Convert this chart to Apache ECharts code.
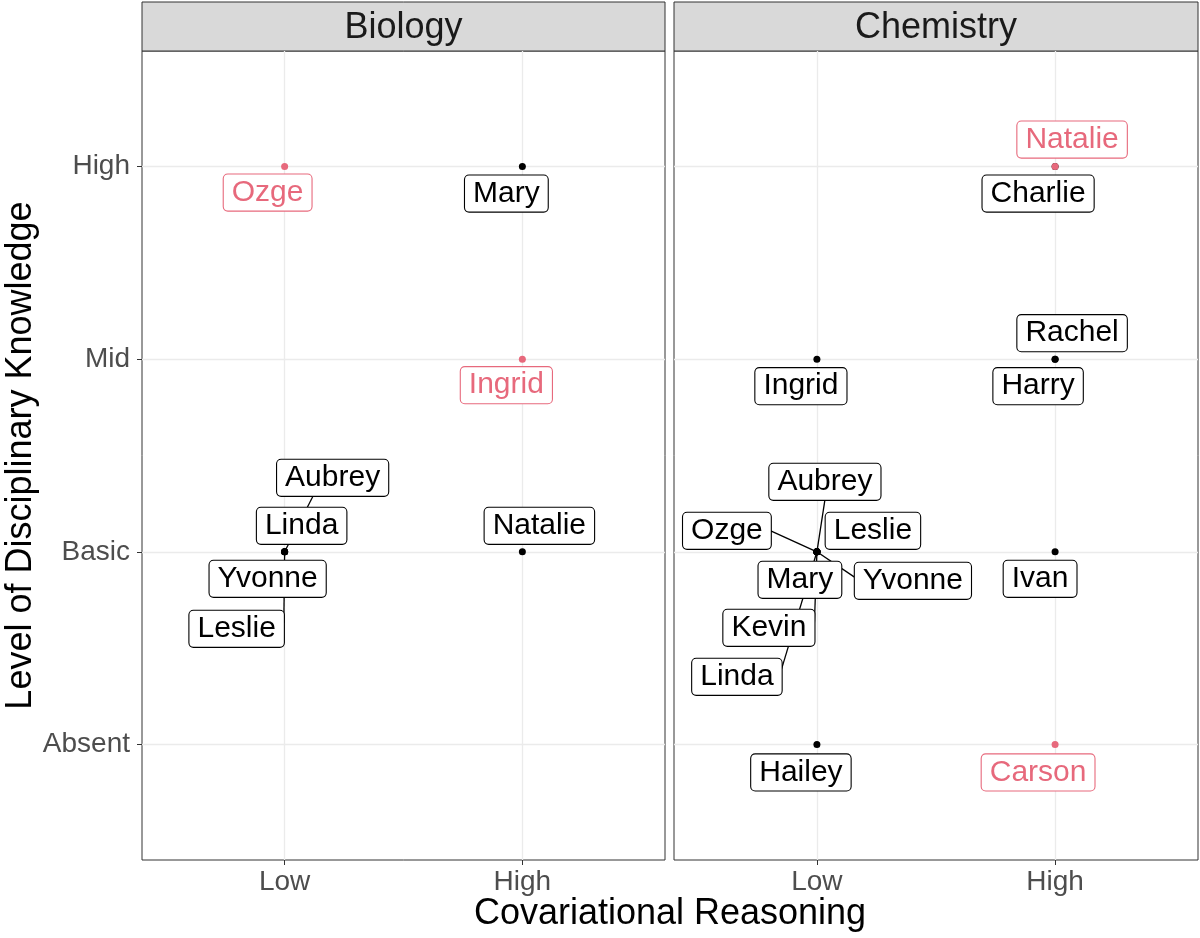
<!DOCTYPE html>
<html>
<head>
<meta charset="utf-8">
<script src="https://cdn.jsdelivr.net/npm/echarts@6/dist/echarts.min.js"></script>
<style>
html, body { margin: 0; padding: 0; background: #fff; }
#main { width: 1200px; height: 938px; }
</style>
</head>
<body>
<div id="main"></div>
<script>
var subjects = ['Biology', 'Chemistry'];
var reasoningLevels = ['Low', 'High'];
var knowledgeLevels = ['Absent', 'Basic', 'Mid', 'High'];

// Biology panel
var bioNames     = ['Ozge', 'Mary', 'Ingrid', 'Natalie', 'Aubrey', 'Linda', 'Yvonne', 'Leslie'];
var bioReasoning = ['Low', 'High', 'High', 'High', 'Low', 'Low', 'Low', 'Low'];
var bioKnowledge = ['High', 'High', 'Mid', 'Basic', 'Basic', 'Basic', 'Basic', 'Basic'];
var bioHighlight = [1, 0, 1, 0, 0, 0, 0, 0];

// Chemistry panel
var chemNames     = ['Natalie', 'Charlie', 'Rachel', 'Harry', 'Ingrid', 'Ivan', 'Hailey', 'Carson',
                     'Aubrey', 'Leslie', 'Ozge', 'Yvonne', 'Mary', 'Kevin', 'Linda'];
var chemReasoning = ['High', 'High', 'High', 'High', 'Low', 'High', 'Low', 'High',
                     'Low', 'Low', 'Low', 'Low', 'Low', 'Low', 'Low'];
var chemKnowledge = ['High', 'High', 'Mid', 'Mid', 'Mid', 'Basic', 'Absent', 'Absent',
                     'Basic', 'Basic', 'Basic', 'Basic', 'Basic', 'Basic', 'Basic'];
var chemHighlight = [1, 0, 0, 0, 0, 0, 0, 1, 0, 0, 0, 0, 0, 0, 0];

// where the repelled labels ended up, in pixels from their point;
// third item, if any: where the segment meets the box (half-box units, 1 = right/bottom edge)
var bioLabelPos = {
    Ozge: [-17, 26], Mary: [-16, 27], Ingrid: [-16, 26], Natalie: [17, -26],
    Aubrey: [48, -74, [-0.35, 1]], Linda: [17, -26], Yvonne: [-17, 27], Leslie: [-48, 77, [1, -0.33]]
};
var chemLabelPos = {
    Natalie: [17, -27], Charlie: [-17, 27], Rachel: [17, -26], Harry: [-17, 27],
    Ingrid: [-16, 27], Ivan: [-15, 27], Hailey: [-16, 28], Carson: [-17, 28],
    Aubrey: [8, -70, [0, 1]], Leslie: [56, -21], Ozge: [-90, -21, [1, 0]], Yvonne: [96, 29, [-1, -0.19]],
    Mary: [-17, 28], Kevin: [-48, 76, [1, -0.3]], Linda: [-80, 125, [1, -0.44]]
};

var PINK = '#E7697C';
var FONT = 'Liberation Sans, Arial, sans-serif';
var LABEL_SIZE = 30, LABEL_PAD = [3, 8];
var panels = [
    { left: 142, right: 665 },
    { left: 674, right: 1198 }
];
var PANEL_TOP = 51, PANEL_BOTTOM = 860;

var measureCtx = document.createElement('canvas').getContext('2d');
measureCtx.font = LABEL_SIZE + 'px ' + FONT;
function boxSize(text) {
    return [measureCtx.measureText(text).width + 2 * LABEL_PAD[1], LABEL_SIZE + 2 * LABEL_PAD[0]];
}

var myChart = echarts.init(document.getElementById('main'));

function pointValue(reasoning, knowledge) {
    return [reasoningLevels.indexOf(reasoning) + 1, knowledgeLevels.indexOf(knowledge) + 1];
}

function buildSeries(idx, names, reasoning, knowledge, highlight, labelPos) {
    var items = [];
    for (var i = 0; i < names.length; i++) {
        items.push({ name: names[i], value: pointValue(reasoning[i], knowledge[i]), hl: highlight[i] });
    }
    // highlighted students drawn on top
    items.sort(function (a, b) { return a.hl - b.hl; });
    var data = items.map(function (d) {
        var col = d.hl ? PINK : '#000';
        return {
            name: d.name,
            value: d.value,
            itemStyle: { color: col, opacity: 1 },
            label: { color: col, borderColor: col }
        };
    });
    return {
        type: 'scatter',
        xAxisIndex: idx,
        yAxisIndex: idx,
        symbolSize: 7,
        z: 3,
        data: data,
        itemStyle: { opacity: 1 },
        label: {
            show: true,
            position: 'inside',
            formatter: '{b}',
            fontFamily: FONT,
            fontSize: LABEL_SIZE,
            lineHeight: LABEL_SIZE,
            backgroundColor: '#fff',
            borderWidth: 1.1,
            borderRadius: 4,
            padding: [LABEL_PAD[0], LABEL_PAD[1], LABEL_PAD[0], LABEL_PAD[1]]
        },
        labelLayout: function (p) {
            var o = labelPos[data[p.dataIndex].name];
            return { dx: o[0], dy: o[1] };
        },
        emphasis: { disabled: true },
        animation: false
    };
}

// segments from the points to their moved labels, under the labels
function buildSegments(idx, names, reasoning, knowledge, labelPos) {
    var segs = [];
    for (var i = 0; i < names.length; i++) {
        if (labelPos[names[i]][2]) {
            segs.push({ name: names[i], value: pointValue(reasoning[i], knowledge[i]) });
        }
    }
    return {
        type: 'custom',
        xAxisIndex: idx,
        yAxisIndex: idx,
        z: 1,
        silent: true,
        animation: false,
        data: segs,
        renderItem: function (params, api) {
            var s = segs[params.dataIndex];
            var p = api.coord([api.value(0), api.value(1)]);
            var lp = labelPos[s.name];
            var sz = boxSize(s.name);
            var ex = p[0] + lp[0] + lp[2][0] * sz[0] / 2;
            var ey = p[1] + lp[1] + lp[2][1] * sz[1] / 2;
            return {
                type: 'line',
                shape: { x1: p[0], y1: p[1], x2: ex, y2: ey },
                style: { stroke: '#000', lineWidth: 1.3 }
            };
        }
    };
}

var grids = [], xAxes = [], yAxes = [], graphics = [];
panels.forEach(function (pn, i) {
    grids.push({
        left: pn.left, right: 1200 - pn.right, top: PANEL_TOP, bottom: 938 - PANEL_BOTTOM,
        containLabel: false, outerBoundsMode: 'none',
        show: true, borderColor: '#333', borderWidth: 1, backgroundColor: '#fff'
    });
    xAxes.push({
        type: 'value', gridIndex: i, min: 0.4, max: 2.6,
        axisLine: { show: false },
        axisTick: { show: true, length: 5, customValues: [1, 2], lineStyle: { color: '#333' } },
        axisLabel: {
            customValues: [1, 2], margin: 8, fontSize: 28, fontFamily: FONT, color: '#4D4D4D',
            formatter: function (v) { return reasoningLevels[Math.round(v) - 1]; }
        },
        splitLine: { show: true, lineStyle: { color: '#EBEBEB', width: 1.3 } }
    });
    yAxes.push({
        type: 'value', gridIndex: i, min: 0.4, max: 4.6,
        name: i === 0 ? 'Level of Disciplinary Knowledge' : '',
        nameLocation: 'middle', nameGap: 102, nameRotate: 90,
        nameTextStyle: { fontSize: 36, fontFamily: FONT, color: '#000' },
        axisLine: { show: false },
        axisTick: { show: i === 0, length: 5, customValues: [1, 2, 3, 4], lineStyle: { color: '#333' } },
        axisLabel: {
            show: i === 0, customValues: [1, 2, 3, 4], margin: 12, fontSize: 28, fontFamily: FONT, color: '#4D4D4D',
            formatter: function (v) { return knowledgeLevels[Math.round(v) - 1]; }
        },
        splitLine: { show: true, lineStyle: { color: '#EBEBEB', width: 1.3 } }
    });
    // facet strip
    graphics.push({
        type: 'rect',
        shape: { x: pn.left, y: 2, width: pn.right - pn.left, height: PANEL_TOP - 2 },
        style: { fill: '#D9D9D9', stroke: '#333', lineWidth: 1 }
    });
    graphics.push({
        type: 'text', x: (pn.left + pn.right) / 2, y: 28,
        style: { text: subjects[i], fontSize: 36, fontFamily: FONT, fill: '#1A1A1A', align: 'center', verticalAlign: 'middle' }
    });
});
graphics.push({
    type: 'text', x: (panels[0].left + panels[1].right) / 2, y: 914,
    style: { text: 'Covariational Reasoning', fontSize: 36, fontFamily: FONT, fill: '#000', align: 'center', verticalAlign: 'middle' }
});

var option = {
    backgroundColor: '#fff',
    grid: grids,
    xAxis: xAxes,
    yAxis: yAxes,
    graphic: graphics,
    series: [
        buildSegments(0, bioNames, bioReasoning, bioKnowledge, bioLabelPos),
        buildSegments(1, chemNames, chemReasoning, chemKnowledge, chemLabelPos),
        buildSeries(0, bioNames, bioReasoning, bioKnowledge, bioHighlight, bioLabelPos),
        buildSeries(1, chemNames, chemReasoning, chemKnowledge, chemHighlight, chemLabelPos)
    ]
};

myChart.setOption(option);
</script>
</body>
</html>
